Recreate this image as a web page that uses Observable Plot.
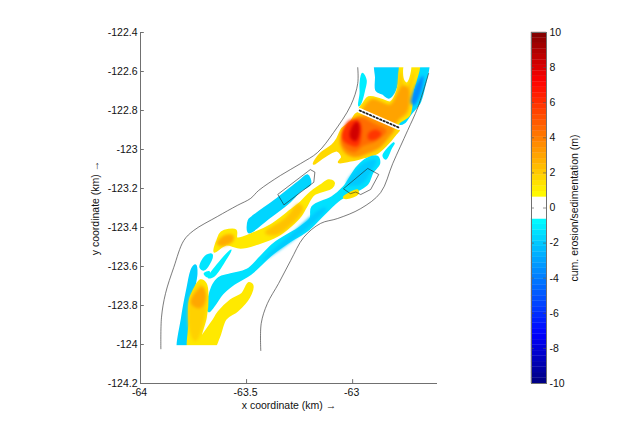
<!DOCTYPE html>
<html>
<head>
<meta charset="utf-8">
<script src="https://cdn.jsdelivr.net/npm/d3@7"></script>
<script src="https://cdn.jsdelivr.net/npm/@observablehq/plot@0.6"></script>
<style>
html,body{margin:0;padding:0;background:#fff}
#wrap{position:relative;width:626px;height:431px}
#wrap svg{position:absolute;left:0;top:0;background:transparent}
</style>
</head>
<body>
<div id="wrap"></div>
<script>
const xDomain = [-64, -62.6];
const yDomain = [-124.2, -122.4];
const xTicks = [-64, -63.5, -63];
const yTicks = [-124.2, -124, -123.8, -123.6, -123.4, -123.2, -123, -122.8, -122.6, -122.4];
const barTicks = [-10, -8, -6, -4, -2, 0, 2, 4, 6, 8, 10];

const leftBank = [[-63.904,-124.022],[-63.901,-123.860],[-63.882,-123.738],[-63.843,-123.604],[-63.796,-123.467],[-63.749,-123.415],[-63.638,-123.344],[-63.544,-123.287],[-63.481,-123.251],[-63.443,-123.210],[-63.340,-123.133],[-63.245,-123.072],[-63.165,-123.015],[-63.090,-122.913],[-63.009,-122.774],[-62.976,-122.662],[-62.976,-122.580]];
const rightBank = [[-63.433,-124.031],[-63.431,-123.892],[-63.402,-123.790],[-63.349,-123.687],[-63.292,-123.569],[-63.231,-123.451],[-63.151,-123.379],[-63.071,-123.354],[-62.962,-123.303],[-62.868,-123.221],[-62.811,-123.072],[-62.741,-122.903],[-62.693,-122.785],[-62.642,-122.610]];
const dredgeEast = [[-63.042,-123.200],[-62.929,-123.097],[-62.877,-123.128],[-62.915,-123.205],[-62.962,-123.231],[-62.985,-123.218],[-63.009,-123.226]];
const dredgeWest = [[-63.352,-123.232],[-63.324,-123.284],[-63.183,-123.168],[-63.178,-123.116],[-63.198,-123.104]];
const bridge = [[-62.967,-122.800],[-62.783,-122.887]];
const topMask = [-122.581, -122.5];
const bottomMask = [-124.1, -124.006];

const topCyan = [[-62.889,-122.55],[-62.778,-122.55],[-62.788,-122.646],[-62.807,-122.708],[-62.830,-122.733],[-62.858,-122.713],[-62.887,-122.697],[-62.889,-122.63]];
const upperYellow = [[-62.769,-122.55],[-62.689,-122.55],[-62.703,-122.646],[-62.717,-122.697],[-62.722,-122.764],[-62.736,-122.826],[-62.783,-122.862],[-62.797,-122.887],[-62.967,-122.800],[-62.948,-122.764],[-62.925,-122.733],[-62.868,-122.744],[-62.821,-122.759],[-62.788,-122.697],[-62.778,-122.595]];
const upperGold = [[-62.953,-122.790],[-62.915,-122.744],[-62.825,-122.769],[-62.788,-122.703],[-62.774,-122.605],[-62.759,-122.672],[-62.736,-122.672],[-62.712,-122.605],[-62.731,-122.723],[-62.741,-122.815],[-62.788,-122.851],[-62.807,-122.882]];
const upperOrange = [[-62.934,-122.774],[-62.906,-122.744],[-62.821,-122.774],[-62.792,-122.728],[-62.764,-122.677],[-62.741,-122.687],[-62.745,-122.800],[-62.783,-122.841],[-62.811,-122.872],[-62.953,-122.805]];
const whiteStreak = [[-62.755,-122.56],[-62.726,-122.56],[-62.731,-122.626],[-62.745,-122.656],[-62.759,-122.636]];
const rightCyan = [[-62.679,-122.55],[-62.645,-122.55],[-62.664,-122.682],[-62.687,-122.764],[-62.726,-122.815],[-62.758,-122.862],[-62.777,-122.867],[-62.766,-122.826],[-62.734,-122.800],[-62.718,-122.749],[-62.703,-122.682]];
const rightBlue = [[-62.670,-122.626],[-62.679,-122.697],[-62.712,-122.769],[-62.722,-122.759],[-62.708,-122.697],[-62.684,-122.646]];
const bankCyan = [[-62.954,-122.612],[-62.939,-122.646],[-62.947,-122.697],[-62.962,-122.757],[-62.970,-122.774],[-62.962,-122.714],[-62.962,-122.662]];
const scourYellow = [[-62.975,-122.814],[-63.009,-122.860],[-63.049,-122.894],[-63.072,-122.945],[-63.096,-122.979],[-63.151,-123.022],[-63.183,-123.073],[-63.151,-123.048],[-63.072,-123.005],[-63.049,-123.039],[-63.065,-123.065],[-63.009,-123.056],[-62.947,-123.039],[-62.892,-123.022],[-62.844,-122.979],[-62.797,-122.919],[-62.782,-122.894]];
const scourOrange = [[-62.972,-122.831],[-63.033,-122.903],[-63.057,-122.954],[-63.033,-123.015],[-62.986,-123.036],[-62.925,-123.015],[-62.877,-122.990],[-62.830,-122.933],[-62.807,-122.892]];
const scourDeep = [[-63.009,-122.877],[-63.047,-122.928],[-63.038,-122.985],[-62.991,-123.010],[-62.953,-122.979],[-62.892,-122.954],[-62.844,-122.903],[-62.906,-122.867],[-62.953,-122.841],[-62.986,-122.841]];
const scourRed = [[-63.041,-122.894],[-63.009,-122.851],[-62.970,-122.860],[-62.962,-122.919],[-62.978,-122.979],[-63.017,-122.971],[-63.049,-122.937]];
const scourRedEast = [[-62.923,-122.919],[-62.892,-122.903],[-62.868,-122.919],[-62.892,-122.945],[-62.923,-122.945]];
const scourDark = [[-63.001,-122.886],[-62.978,-122.860],[-62.970,-122.903],[-62.986,-122.954],[-63.009,-122.937]];
const mainCyan = [[-63.683,-123.809],[-63.662,-123.706],[-63.631,-123.660],[-63.575,-123.641],[-63.497,-123.617],[-63.434,-123.552],[-63.371,-123.484],[-63.245,-123.398],[-63.198,-123.354],[-63.190,-123.296],[-63.096,-123.245],[-63.041,-123.193],[-62.978,-123.091],[-62.931,-123.048],[-62.883,-123.039],[-62.876,-123.073],[-62.907,-123.116],[-62.931,-123.176],[-62.978,-123.210],[-63.057,-123.253],[-63.135,-123.330],[-63.214,-123.415],[-63.292,-123.467],[-63.379,-123.535],[-63.481,-123.637],[-63.560,-123.689],[-63.615,-123.740],[-63.654,-123.800],[-63.678,-123.829]];
const mainBlueTop = [[-63.025,-123.176],[-62.947,-123.073],[-62.892,-123.056],[-62.915,-123.108],[-62.962,-123.176]];
const mainBlueMid = [[-63.425,-123.569],[-63.292,-123.441],[-63.151,-123.308],[-63.127,-123.303],[-63.264,-123.446],[-63.396,-123.549]];
const midCyan = [[-63.489,-123.364],[-63.473,-123.347],[-63.355,-123.253],[-63.245,-123.159],[-63.214,-123.133],[-63.201,-123.176],[-63.245,-123.210],[-63.308,-123.278],[-63.402,-123.355],[-63.489,-123.424]];
const diagYellow = [[-63.651,-123.523],[-63.637,-123.467],[-63.618,-123.426],[-63.552,-123.415],[-63.547,-123.456],[-63.458,-123.426],[-63.387,-123.390],[-63.292,-123.313],[-63.245,-123.272],[-63.198,-123.221],[-63.151,-123.185],[-63.113,-123.159],[-63.090,-123.169],[-63.099,-123.195],[-63.184,-123.231],[-63.222,-123.297],[-63.245,-123.338],[-63.292,-123.390],[-63.354,-123.441],[-63.448,-123.482],[-63.528,-123.503],[-63.599,-123.487]];
const diagOrange = [[-63.410,-123.426],[-63.316,-123.354],[-63.255,-123.282],[-63.236,-123.303],[-63.283,-123.374],[-63.363,-123.436]];
const diagHead = [[-63.637,-123.482],[-63.608,-123.446],[-63.566,-123.441],[-63.566,-123.467],[-63.613,-123.492]];
const smallYellow = [[-63.041,-123.245],[-63.017,-123.227],[-62.978,-123.210],[-62.978,-123.227],[-63.025,-123.248]];
const smallCyan = [[-62.854,-123.031],[-62.807,-122.969],[-62.821,-122.995],[-62.844,-123.046]];
const westCyan = [[-63.819,-124.04],[-63.803,-123.860],[-63.780,-123.723],[-63.756,-123.612],[-63.741,-123.595],[-63.737,-123.637],[-63.756,-123.757],[-63.764,-123.860],[-63.772,-124.04]];
const lowerYellow = [[-63.767,-124.04],[-63.769,-123.894],[-63.767,-123.774],[-63.749,-123.723],[-63.717,-123.672],[-63.693,-123.689],[-63.685,-123.757],[-63.693,-123.860],[-63.717,-123.963],[-63.662,-123.886],[-63.631,-123.834],[-63.575,-123.774],[-63.520,-123.740],[-63.489,-123.686],[-63.473,-123.697],[-63.489,-123.757],[-63.544,-123.826],[-63.599,-123.868],[-63.631,-123.963],[-63.670,-124.04]];
const lowerGold = [[-63.766,-123.928],[-63.764,-123.764],[-63.717,-123.692],[-63.693,-123.754],[-63.703,-123.877],[-63.741,-123.979]];
const lowerOrange = [[-63.761,-123.783],[-63.741,-123.740],[-63.709,-123.706],[-63.693,-123.757],[-63.717,-123.809],[-63.749,-123.800]];
const chipA = [[-63.717,-123.604],[-63.693,-123.549],[-63.665,-123.540],[-63.678,-123.586],[-63.701,-123.615]];
const chipB = [[-63.678,-123.655],[-63.631,-123.586],[-63.575,-123.518],[-63.599,-123.560],[-63.654,-123.646]];
const chipC = [[-63.697,-123.637],[-63.678,-123.629],[-63.683,-123.650]];

const outerLayers = [
  [topCyan,-1.8],[rightCyan,-1.6],[bankCyan,-1.1],
  [upperYellow,1.3],[scourYellow,1.6],
  [mainCyan,-1.4],[midCyan,-1.7],
  [diagYellow,1.2],[smallYellow,1.4],[smallCyan,-1.2],
  [westCyan,-1.8],[lowerYellow,1.2],
  [chipA,-1.3],[chipB,-1.0],[chipC,-1.0]
];
const innerLayers = [
  [rightBlue,-3.6],[upperGold,2.0],[upperOrange,3.0],
  [scourOrange,3.4],[scourDeep,4.4],[scourRed,6.0],[scourRedEast,5.8],[scourDark,8.2],
  [mainBlueMid,-2.0],[mainBlueTop,-2.0],
  [diagOrange,2.2],[diagHead,2.8],[lowerGold,1.8],[lowerOrange,2.9]
];
const toRows = list => list.flatMap(([pts, v], id) => pts.map(([x, y]) => ({x, y, id, v})));
const pairs = pts => pts.map(([x, y]) => ({x, y}));

const colorScale = {
  type: "linear",
  domain: [-10, -7.2, -0.6251, -0.625, 0.625, 0.6251, 7.2, 10],
  range: ["#00007f", "#0000ff", "#00ffff", "#ffffff", "#ffffff", "#ffff00", "#ff0000", "#7f0000"],
  interpolate: "rgb"
};
const textStyle = {fontFamily: "'Liberation Sans', Arial, sans-serif", fontSize: "10.5px", color: "#111"};
const axisGray = "#707070";
const hyphen = d => String(d);

const map = Plot.plot({
  width: 626, height: 431,
  marginLeft: 140, marginRight: 189, marginTop: 32, marginBottom: 48,
  style: textStyle,
  x: {domain: xDomain},
  y: {domain: yDomain},
  color: colorScale,
  marks: [
    Plot.line(toRows(outerLayers), {x: "x", y: "y", z: "id", fill: "v", stroke: "v", strokeWidth: 2.4, curve: "catmull-rom-closed", imageFilter: "blur(0.6px)"}),
    Plot.line(toRows(innerLayers), {x: "x", y: "y", z: "id", fill: "v", stroke: "v", strokeWidth: 1.5, curve: "catmull-rom-closed", imageFilter: "blur(1.8px)"}),
    Plot.line(pairs(whiteStreak), {x: "x", y: "y", fill: "#fff", stroke: "none", curve: "catmull-rom-closed", imageFilter: "blur(0.5px)"}),
    Plot.rect([topMask], {x1: -62.95, x2: -62.62, y1: d => d[0], y2: d => d[1], fill: "#fff"}),
    Plot.rect([bottomMask], {x1: -63.95, x2: -63.6, y1: d => d[0], y2: d => d[1], fill: "#fff"}),
    Plot.line(pairs(leftBank), {x: "x", y: "y", stroke: "#333", strokeWidth: 0.65, curve: "catmull-rom"}),
    Plot.line(pairs(rightBank), {x: "x", y: "y", stroke: "#333", strokeWidth: 0.65, curve: "catmull-rom"}),
    Plot.line(pairs(dredgeEast), {x: "x", y: "y", stroke: "#222", strokeWidth: 0.6, curve: "linear-closed"}),
    Plot.line(pairs(dredgeWest), {x: "x", y: "y", stroke: "#222", strokeWidth: 0.6, curve: "linear-closed"}),
    Plot.line(pairs(bridge), {x: "x", y: "y", stroke: "#fff", strokeWidth: 5}),
    Plot.line(pairs(bridge), {x: "x", y: "y", stroke: "#222", strokeWidth: 1.8, strokeDasharray: "1.5,2.2"}),
    Plot.ruleX([xDomain[0]], {stroke: axisGray}),
    Plot.ruleY([yDomain[0]], {stroke: axisGray}),
    Plot.ruleX(xTicks, {y1: yDomain[0], y2: yDomain[0] + 0.02, stroke: axisGray}),
    Plot.ruleY(yTicks, {x1: xDomain[0], x2: xDomain[0] + 0.018, stroke: axisGray}),
    Plot.axisX({ticks: xTicks, tickFormat: hyphen, tickSize: 0, tickPadding: 5, dx: -1, label: "x coordinate (km) →", labelArrow: "none", labelAnchor: "center", labelOffset: 25}),
    Plot.axisY({ticks: yTicks, tickFormat: hyphen, tickSize: 0, tickPadding: 3, label: "y coordinate (km) →", labelArrow: "none", labelAnchor: "center", labelOffset: 49})
  ]
});

const barCells = d3.range(64).map(i => ({lo: -10 + i * 20 / 64, hi: -10 + (i + 1) * 20 / 64, v: -10 + (i + 0.5) * 20 / 64}));

const bar = Plot.plot({
  width: 626, height: 431,
  marginLeft: 531, marginRight: 80, marginTop: 32, marginBottom: 48,
  style: textStyle,
  x: {domain: [0, 1], axis: null},
  y: {domain: [-10, 10]},
  color: colorScale,
  marks: [
    Plot.rect(barCells, {x1: 0, x2: 1, y1: "lo", y2: "hi", fill: "v", stroke: "v", strokeWidth: 0.3}),
    Plot.ruleY(barTicks, {x1: 0, x2: 0.2, stroke: "#555", strokeOpacity: 0.6}),
    Plot.ruleY(barTicks, {x1: 0.8, x2: 1, stroke: "#555", strokeOpacity: 0.6}),
    Plot.frame({stroke: axisGray}),
    Plot.axisY({anchor: "right", ticks: barTicks, tickFormat: hyphen, tickSize: 0, tickPadding: 3, label: "cum. erosion/sedimentation (m)", labelArrow: "none", labelAnchor: "center", labelOffset: 31})
  ]
});

const wrap = document.getElementById("wrap");
wrap.appendChild(map);
wrap.appendChild(bar);
</script>
</body>
</html>
